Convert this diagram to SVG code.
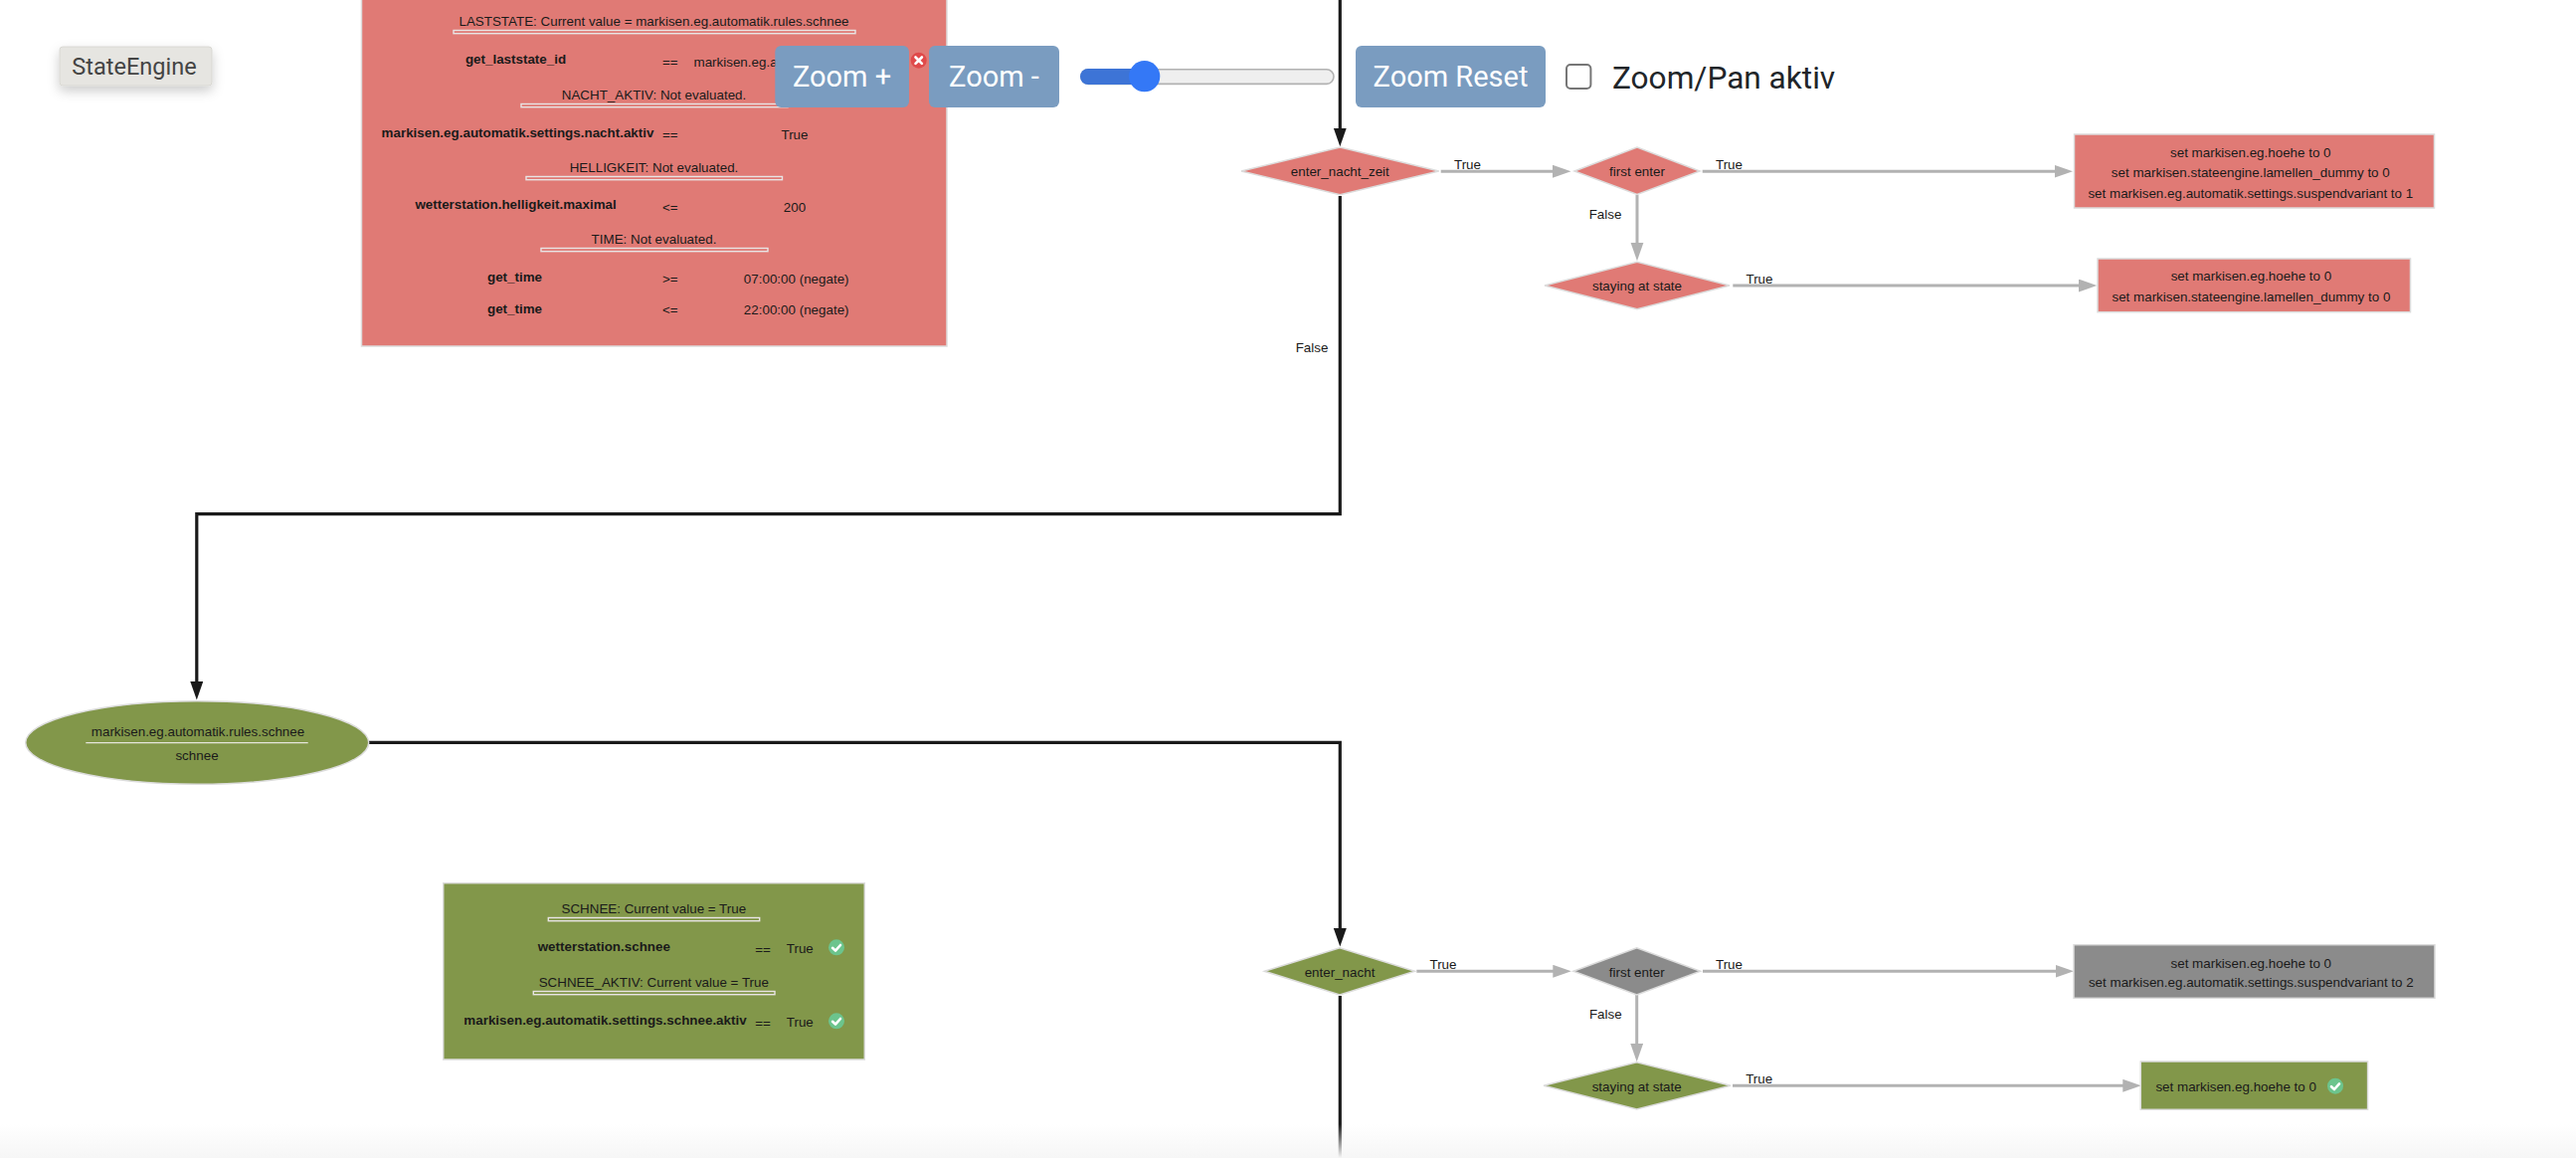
<svg xmlns="http://www.w3.org/2000/svg" width="2590" height="1164" viewBox="0 0 2590 1164">
<style>
text{font-family:"Liberation Sans",Arial,sans-serif;font-size:13.4px;fill:#1a1a1a;text-anchor:middle;dominant-baseline:central}
.b{font-weight:bold}
.l{text-anchor:start}
.red{fill:#e07a75;stroke:#dcdcdc;stroke-width:1.5}
.grn{fill:#82974a;stroke:#dcdcdc;stroke-width:1.5}
.gry{fill:#8b8b8b;stroke:#dcdcdc;stroke-width:1.5}
.dbl{fill:none;stroke:#e8e4e4;stroke-width:1.4}
.blk{fill:none;stroke:#1a1a1a;stroke-width:3.2}
.g{fill:none;stroke:#b2b2b2;stroke-width:3}
.btn{fill:#7a9cc0}
.btxt{font-family:Roboto,"Liberation Sans",sans-serif;font-size:29px;fill:#fff}
.ok{fill:#6cc48d}
.tick{fill:none;stroke:#fff;stroke-width:2.6;stroke-linecap:round;stroke-linejoin:round}
</style>
<defs>
<marker id="ab" markerUnits="userSpaceOnUse" markerWidth="20" markerHeight="15" refX="8" refY="6.5" orient="auto"><path d="M0 0L18.5 6.5L0 13Z" fill="#1a1a1a"/></marker>
<marker id="ag" markerUnits="userSpaceOnUse" markerWidth="20" markerHeight="15" refX="8" refY="6.5" orient="auto"><path d="M0 0L18.5 6.5L0 13Z" fill="#b2b2b2"/></marker>
<filter id="sh" x="-30%" y="-50%" width="160%" height="220%"><feDropShadow dx="0" dy="5" stdDeviation="6" flood-color="#000" flood-opacity=".2"/></filter>
<linearGradient id="fade" x1="0" y1="0" x2="0" y2="1"><stop offset="0" stop-color="#f6f6f6" stop-opacity="0"/><stop offset="1" stop-color="#f6f6f6"/></linearGradient>
</defs>
<rect width="2590" height="1164" fill="#fff"/>

<g id="connectors">
<path class="blk" marker-end="url(#ab)" d="M1347.3 0V136.7"/>
<path class="blk" marker-end="url(#ab)" d="M1347.3 197V516.7H197.8V693"/>
<path class="blk" marker-end="url(#ab)" d="M371 746.4H1347.3V941"/>
<path class="blk" d="M1347.3 1001V1164"/>
<path class="g" marker-end="url(#ag)" d="M1448.7 172.3H1569"/>
<path class="g" marker-end="url(#ag)" d="M1711.7 172.3H2073.5"/>
<path class="g" marker-end="url(#ag)" d="M1646 196V251.7"/>
<path class="g" marker-end="url(#ag)" d="M1742.3 287H2097.8"/>
<path class="g" marker-end="url(#ag)" d="M1424.3 976.3H1569.3"/>
<path class="g" marker-end="url(#ag)" d="M1712 976.3H2074.5"/>
<path class="g" marker-end="url(#ag)" d="M1645.7 1000V1056.7"/>
<path class="g" marker-end="url(#ag)" d="M1742 1091.3H2142.3"/>
<text x="1475.5" y="165">True</text>
<text x="1319" y="349">False</text>
<text x="1738.5" y="165.5">True</text>
<text x="1614" y="215.7">False</text>
<text x="1769" y="280.7">True</text>
<text x="1451" y="969.3">True</text>
<text x="1738.5" y="969.3">True</text>
<text x="1614.3" y="1019.3">False</text>
<text x="1768.7" y="1084.3">True</text>
</g>

<g id="cond-nacht-zeit">
<rect class="red" x="363.5" y="-5" width="588.5" height="353"/>
<text x="657.5" y="21">LASTSTATE: Current value = markisen.eg.automatik.rules.schnee</text>
<rect class="dbl" x="456" y="30.5" width="404" height="3.2"/>
<text class="b" x="518.5" y="59.5">get_laststate_id</text>
<text x="673.7" y="62">==</text>
<text class="l" x="697.5" y="62">markisen.eg.a</text>
<text x="657.5" y="95.7">NACHT_AKTIV: Not evaluated.</text>
<rect class="dbl" x="524" y="104.5" width="268" height="3.2"/>
<text class="b" x="520.5" y="133">markisen.eg.automatik.settings.nacht.aktiv</text>
<text x="673.7" y="135">==</text>
<text x="799" y="135">True</text>
<text x="657.5" y="168">HELLIGKEIT: Not evaluated.</text>
<rect class="dbl" x="529" y="177.5" width="257.5" height="3.2"/>
<text class="b" x="518.6" y="205.7">wetterstation.helligkeit.maximal</text>
<text x="673.7" y="208">&lt;=</text>
<text x="799" y="208">200</text>
<text x="657.5" y="240">TIME: Not evaluated.</text>
<rect class="dbl" x="544" y="249.5" width="228" height="3.2"/>
<text class="b" x="517.5" y="278.7">get_time</text>
<text x="673.7" y="280">&gt;=</text>
<text x="800.7" y="280">07:00:00 (negate)</text>
<text class="b" x="517.5" y="310">get_time</text>
<text x="673.7" y="311">&lt;=</text>
<text x="800.7" y="311">22:00:00 (negate)</text>
</g>

<g id="d-enter-nacht-zeit"><polygon class="red" points="1248,172 1347.3,148 1446.7,172 1347.3,195.7"/><text x="1347.3" y="172.7">enter_nacht_zeit</text></g>
<g id="d-first-enter-1"><polygon class="red" points="1583,172 1646,148 1709,172 1646,195.5"/><text x="1646" y="172.5">first enter</text></g>
<g id="d-staying-1"><polygon class="red" points="1553,287 1646,263.3 1739,287 1646,310.7"/><text x="1646" y="287.7">staying at state</text></g>
<g id="a-first-1"><rect class="red" x="2085.5" y="135" width="362" height="74"/>
<text x="2262.8" y="153.3">set markisen.eg.hoehe to 0</text>
<text x="2262.8" y="173.7">set markisen.stateengine.lamellen_dummy to 0</text>
<text x="2262.8" y="194">set markisen.eg.automatik.settings.suspendvariant to 1</text></g>
<g id="a-stay-1"><rect class="red" x="2109" y="260" width="314.5" height="53.7"/>
<text x="2263.4" y="277.7">set markisen.eg.hoehe to 0</text>
<text x="2263.4" y="298.7">set markisen.stateengine.lamellen_dummy to 0</text></g>

<g id="state-schnee"><ellipse class="grn" cx="198.2" cy="746.5" rx="172.5" ry="41.8"/>
<text x="199" y="735.7">markisen.eg.automatik.rules.schnee</text>
<path d="M86.3 746.7H309.7" stroke="#e6e6dc" stroke-width="1.2"/>
<text x="198" y="759.7">schnee</text></g>

<g id="cond-schnee"><rect class="grn" x="445.7" y="887.7" width="423.6" height="177.3"/>
<text x="657.3" y="913.3">SCHNEE: Current value = True</text>
<rect class="dbl" x="551.3" y="922.5" width="212.4" height="3.2"/>
<text class="b" x="607.3" y="951.7">wetterstation.schnee</text>
<text x="767" y="954">==</text>
<text x="804.3" y="953">True</text>
<circle class="ok" cx="841" cy="952.3" r="8"/><path class="tick" d="M837 952.8l3 2.8 5-5.6"/>
<text x="657.3" y="987.3">SCHNEE_AKTIV: Current value = True</text>
<rect class="dbl" x="536.3" y="996.5" width="242.7" height="3.2"/>
<text class="b" x="608.5" y="1025.7">markisen.eg.automatik.settings.schnee.aktiv</text>
<text x="767" y="1028">==</text>
<text x="804.3" y="1027">True</text>
<circle class="ok" cx="841" cy="1026.3" r="8"/><path class="tick" d="M837 1026.8l3 2.8 5-5.6"/>
</g>

<g id="d-enter-nacht"><polygon class="grn" points="1271.4,976.3 1347,952.7 1422.5,976.3 1347,1000"/><text x="1347" y="977.7">enter_nacht</text></g>
<g id="d-first-enter-2"><polygon class="gry" points="1582,976.3 1645.7,952.7 1709.6,976.3 1645.7,1000"/><text x="1645.7" y="977.7">first enter</text></g>
<g id="d-staying-2"><polygon class="grn" points="1552,1091.3 1645.7,1067.7 1740,1091.3 1645.7,1115"/><text x="1645.7" y="1092.7">staying at state</text></g>
<g id="a-first-2"><rect class="gry" x="2085" y="949.7" width="363" height="53.6"/>
<text x="2263.3" y="968">set markisen.eg.hoehe to 0</text>
<text x="2263.3" y="987.7">set markisen.eg.automatik.settings.suspendvariant to 2</text></g>
<g id="a-stay-2"><rect class="grn" x="2152.3" y="1067" width="228.3" height="48.3"/>
<text class="l" x="2167.4" y="1092.7">set markisen.eg.hoehe to 0</text>
<circle class="ok" cx="2348" cy="1091.7" r="8"/><path class="tick" d="M2344 1092.2l3 2.8 5-5.6"/></g>

<g id="ui-controls">
<g id="btn-stateengine"><rect x="60" y="47" width="153" height="39" rx="3" fill="#e6e5e1" stroke="#d8d7d2" filter="url(#sh)"/>
<text x="135" y="66.5" style="font-family:Roboto,'Liberation Sans',sans-serif;font-size:23.5px;fill:#444">StateEngine</text></g>
<circle cx="923.7" cy="60.7" r="8" fill="#e04a4a"/><path d="M920.5 57.5l6.4 6.4m0-6.4l-6.4 6.4" stroke="#fff" stroke-width="2.6" stroke-linecap="round"/>
<g id="btn-zoom-in"><rect class="btn" x="779.3" y="46" width="134.7" height="62" rx="6"/><text class="btxt" x="846.5" y="77">Zoom +</text></g>
<g id="btn-zoom-out"><rect class="btn" x="934" y="46" width="131" height="62" rx="6"/><text class="btxt" x="999.5" y="77">Zoom -</text></g>
<g id="slider"><rect x="1087" y="69.8" width="254" height="14.6" rx="7.3" fill="#efefef" stroke="#b2b2b2" stroke-width="1.6"/>
<rect x="1086" y="69" width="65" height="16" rx="8" fill="#3d74d6"/>
<circle cx="1150.7" cy="76.7" r="15.6" fill="#3478f6"/></g>
<g id="btn-zoom-reset"><rect class="btn" x="1363" y="46" width="191" height="62" rx="6"/><text class="btxt" x="1458.5" y="77">Zoom Reset</text></g>
<g id="chk"><rect x="1575" y="65" width="24.4" height="24" rx="4" fill="#fff" stroke="#767676" stroke-width="2"/>
<text class="l" x="1621" y="78" style="font-family:Roboto,'Liberation Sans',sans-serif;font-size:31.6px;fill:#212529">Zoom/Pan aktiv</text></g>
</g>
<rect x="0" y="1130" width="2590" height="34" fill="url(#fade)"/>
</svg>
